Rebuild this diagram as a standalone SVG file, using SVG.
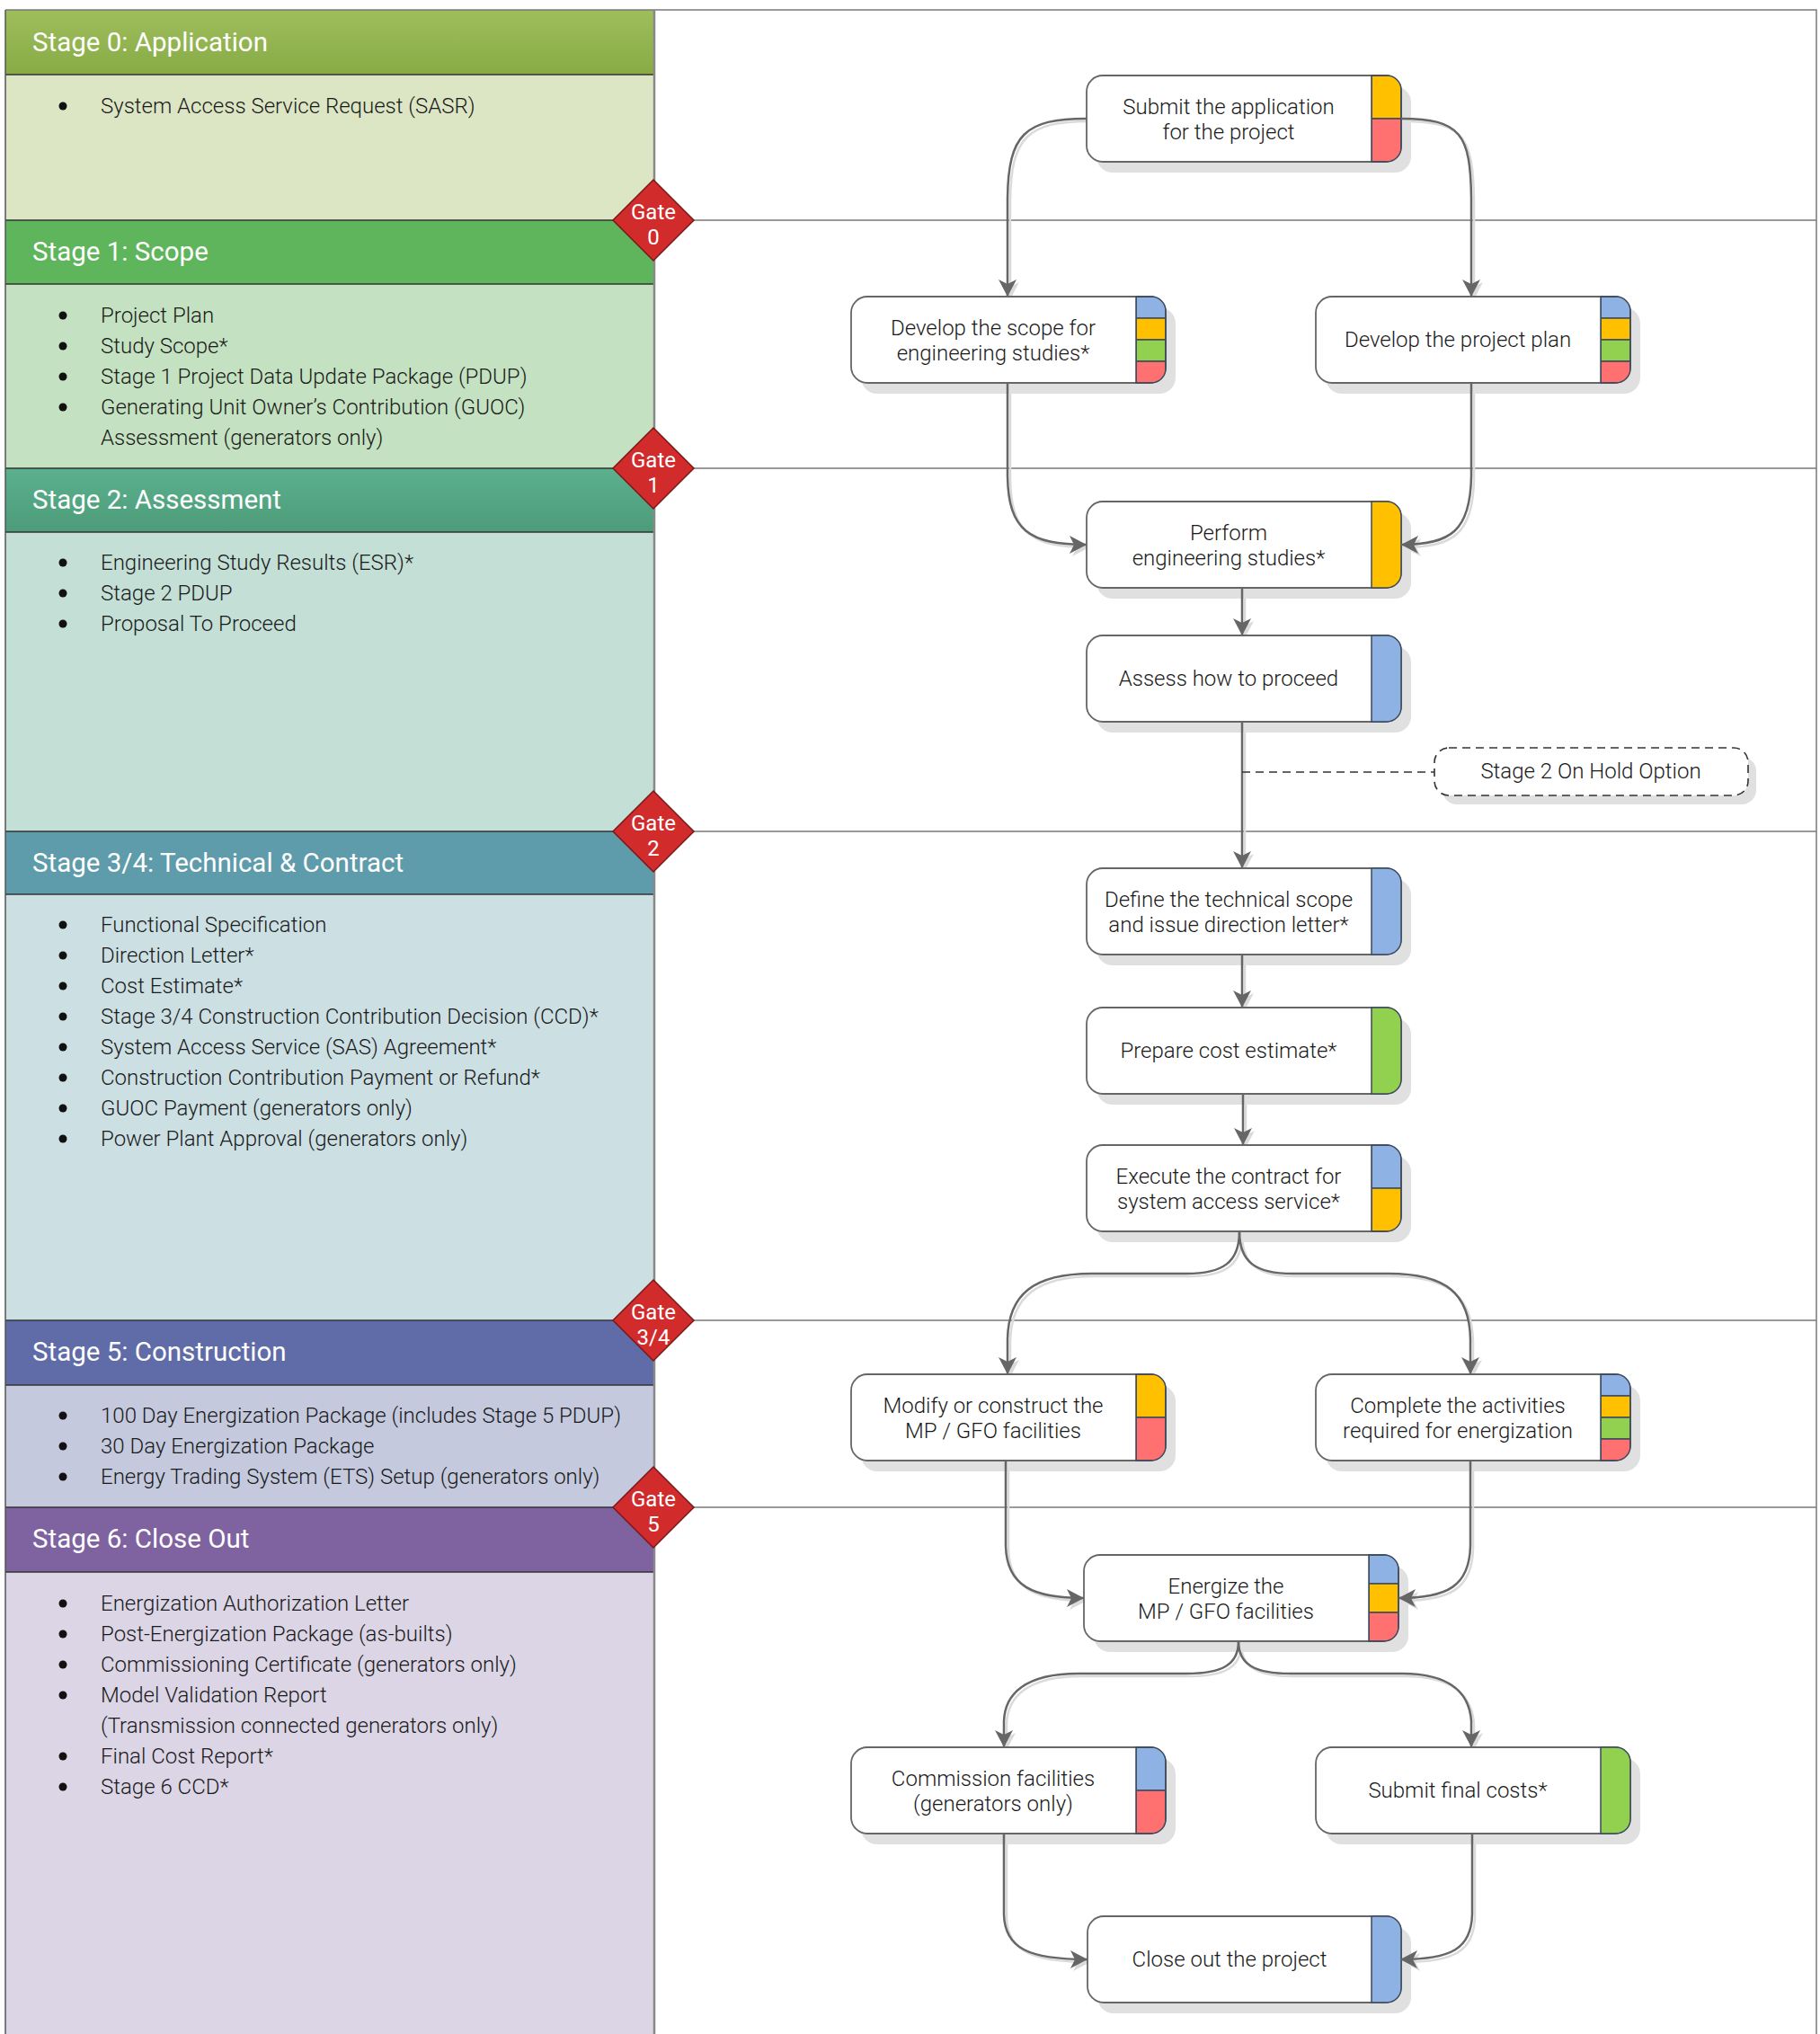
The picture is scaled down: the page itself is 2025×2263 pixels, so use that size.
<svg xmlns="http://www.w3.org/2000/svg" xmlns:xlink="http://www.w3.org/1999/xlink" width="2025" height="2263" viewBox="0 0 2025 2263">
<style>
.hdr{font-family:Roboto,"Liberation Sans",sans-serif;font-size:29.5px;fill:#fff;font-weight:400}
.lst{font-family:Roboto,"Liberation Sans",sans-serif;font-size:24px;fill:#1a1a1a;font-weight:300}
.gt{font-family:Roboto,"Liberation Sans",sans-serif;font-size:24px;fill:#fff;text-anchor:middle}
.nt{font-family:Roboto,"Liberation Sans",sans-serif;font-size:24px;fill:#1a1a1a;font-weight:300;text-anchor:middle}
.frame{stroke:#7a7a7a;stroke-width:1.5;fill:none}
.hline{stroke:#333;stroke-width:1.5}
.gate{fill:#d12b2b;stroke:#7a1818;stroke-width:1.5}
.box{fill:#fff;stroke:#666;stroke-width:1.8}
.shd{fill:#e0e0e0}
.con{fill:none;stroke:#666;stroke-width:2.5}
.cons{fill:none;stroke:#dadada;stroke-width:2.5}
.dash{fill:none;stroke:#333;stroke-width:1.6;stroke-dasharray:9 6}
.bul{fill:#111}
</style>
<defs>
<linearGradient id="g0" x1="0" y1="0" x2="0" y2="1"><stop offset="0" stop-color="#9ebe5b"/><stop offset="1" stop-color="#88ab46"/></linearGradient>
<linearGradient id="g2" x1="0" y1="0" x2="0" y2="1"><stop offset="0" stop-color="#5bb08e"/><stop offset="1" stop-color="#4d9c79"/></linearGradient>
<marker id="arr" markerUnits="userSpaceOnUse" markerWidth="22" markerHeight="22" refX="19" refY="10" orient="auto">
<path d="M0,0 L19,10 L0,20 L5,10 Z" fill="#666"/>
</marker>
<marker id="arrs" markerUnits="userSpaceOnUse" markerWidth="22" markerHeight="22" refX="19" refY="10" orient="auto">
<path d="M0,0 L19,10 L0,20 L5,10 Z" fill="#dadada"/>
</marker>
<clipPath id="barclip" clipPathUnits="objectBoundingBox">
<path d="M0,0 H0.5 A0.5,0.17 0 0 1 1,0.17 V0.83 A0.5,0.17 0 0 1 0.5,1 H0 Z"/>
</clipPath>
<symbol id="bYR" viewBox="0 0 33 96" overflow="visible"><g clip-path="url(#barclip)"><rect x="0" y="0" width="33" height="48" fill="#ffc000" stroke="#3d4a5c" stroke-width="1.5"/><rect x="0" y="48" width="33" height="48" fill="#ff7070" stroke="#3d4a5c" stroke-width="1.5"/></g><path d="M0,0 H17 A16,16 0 0 1 33,16 V80 A16,16 0 0 1 17,96 H0 Z" fill="none" stroke="#3d4a5c" stroke-width="1.5"/></symbol>
<symbol id="bBYGR" viewBox="0 0 33 96" overflow="visible"><g clip-path="url(#barclip)"><rect x="0" y="0" width="33" height="24" fill="#8eb2e3" stroke="#3d4a5c" stroke-width="1.5"/><rect x="0" y="24" width="33" height="24" fill="#ffc000" stroke="#3d4a5c" stroke-width="1.5"/><rect x="0" y="48" width="33" height="24" fill="#92d050" stroke="#3d4a5c" stroke-width="1.5"/><rect x="0" y="72" width="33" height="24" fill="#ff7070" stroke="#3d4a5c" stroke-width="1.5"/></g><path d="M0,0 H17 A16,16 0 0 1 33,16 V80 A16,16 0 0 1 17,96 H0 Z" fill="none" stroke="#3d4a5c" stroke-width="1.5"/></symbol>
<symbol id="bY" viewBox="0 0 33 96" overflow="visible"><path d="M0,0 H17 A16,16 0 0 1 33,16 V80 A16,16 0 0 1 17,96 H0 Z" fill="#ffc000" stroke="#3d4a5c" stroke-width="1.5"/></symbol>
<symbol id="bB" viewBox="0 0 33 96" overflow="visible"><path d="M0,0 H17 A16,16 0 0 1 33,16 V80 A16,16 0 0 1 17,96 H0 Z" fill="#8eb2e3" stroke="#3d4a5c" stroke-width="1.5"/></symbol>
<symbol id="bG" viewBox="0 0 33 96" overflow="visible"><path d="M0,0 H17 A16,16 0 0 1 33,16 V80 A16,16 0 0 1 17,96 H0 Z" fill="#92d050" stroke="#3d4a5c" stroke-width="1.5"/></symbol>
<symbol id="bBY" viewBox="0 0 33 96" overflow="visible"><g clip-path="url(#barclip)"><rect x="0" y="0" width="33" height="48" fill="#8eb2e3" stroke="#3d4a5c" stroke-width="1.5"/><rect x="0" y="48" width="33" height="48" fill="#ffc000" stroke="#3d4a5c" stroke-width="1.5"/></g><path d="M0,0 H17 A16,16 0 0 1 33,16 V80 A16,16 0 0 1 17,96 H0 Z" fill="none" stroke="#3d4a5c" stroke-width="1.5"/></symbol>
<symbol id="bBYR" viewBox="0 0 33 96" overflow="visible"><g clip-path="url(#barclip)"><rect x="0" y="0" width="33" height="32" fill="#8eb2e3" stroke="#3d4a5c" stroke-width="1.5"/><rect x="0" y="32" width="33" height="32" fill="#ffc000" stroke="#3d4a5c" stroke-width="1.5"/><rect x="0" y="64" width="33" height="32" fill="#ff7070" stroke="#3d4a5c" stroke-width="1.5"/></g><path d="M0,0 H17 A16,16 0 0 1 33,16 V80 A16,16 0 0 1 17,96 H0 Z" fill="none" stroke="#3d4a5c" stroke-width="1.5"/></symbol>
<symbol id="bBR" viewBox="0 0 33 96" overflow="visible"><g clip-path="url(#barclip)"><rect x="0" y="0" width="33" height="48" fill="#8eb2e3" stroke="#3d4a5c" stroke-width="1.5"/><rect x="0" y="48" width="33" height="48" fill="#ff7070" stroke="#3d4a5c" stroke-width="1.5"/></g><path d="M0,0 H17 A16,16 0 0 1 33,16 V80 A16,16 0 0 1 17,96 H0 Z" fill="none" stroke="#3d4a5c" stroke-width="1.5"/></symbol>
</defs>
<rect x="0" y="0" width="2025" height="2263" fill="#fff"/>

<!-- frame / swimlane lines -->
<g id="frame">
<path class="frame" d="M728,11 H2021 V2263"/>
<path class="frame" d="M728,245 H2021 M728,521 H2021 M728,925 H2021 M728,1469 H2021 M728,1677 H2021"/>
</g>

<!-- stage panel -->
<g id="stage0">
<rect x="6" y="11" width="722" height="72" fill="url(#g0)"/>
<rect x="6" y="83" width="722" height="162" fill="#dce6c5"/>
<text class="hdr" x="36" y="57">Stage 0: Application</text>
<circle class="bul" cx="70" cy="118" r="4.5"/>
<text class="lst" x="112" y="126">System Access Service Request (SASR)</text>
</g>
<g id="stage1">
<rect x="6" y="245" width="722" height="71" fill="#5fb55c"/>
<rect x="6" y="316" width="722" height="205" fill="#c4e2c1"/>
<text class="hdr" x="36" y="290">Stage 1: Scope</text>
<g class="bul"><circle cx="70" cy="351" r="4.5"/><circle cx="70" cy="385" r="4.5"/><circle cx="70" cy="419" r="4.5"/><circle cx="70" cy="453" r="4.5"/></g>
<text class="lst"><tspan x="112" y="359">Project Plan</tspan><tspan x="112" y="393">Study Scope*</tspan><tspan x="112" y="427">Stage 1 Project Data Update Package (PDUP)</tspan><tspan x="112" y="461">Generating Unit Owner’s Contribution (GUOC)</tspan><tspan x="112" y="495">Assessment (generators only)</tspan></text>
</g>
<g id="stage2">
<rect x="6" y="521" width="722" height="71" fill="url(#g2)"/>
<rect x="6" y="592" width="722" height="333" fill="#c3dfd6"/>
<text class="hdr" x="36" y="566">Stage 2: Assessment</text>
<g class="bul"><circle cx="70" cy="626" r="4.5"/><circle cx="70" cy="660" r="4.5"/><circle cx="70" cy="694" r="4.5"/></g>
<text class="lst"><tspan x="112" y="634">Engineering Study Results (ESR)*</tspan><tspan x="112" y="668">Stage 2 PDUP</tspan><tspan x="112" y="702">Proposal To Proceed</tspan></text>
</g>
<g id="stage34">
<rect x="6" y="925" width="722" height="70" fill="#5e9bab"/>
<rect x="6" y="995" width="722" height="474" fill="#cce0e4"/>
<text class="hdr" x="36" y="970">Stage 3/4: Technical &amp; Contract</text>
<g class="bul"><circle cx="70" cy="1029" r="4.5"/><circle cx="70" cy="1063" r="4.5"/><circle cx="70" cy="1097" r="4.5"/><circle cx="70" cy="1131" r="4.5"/><circle cx="70" cy="1165" r="4.5"/><circle cx="70" cy="1199" r="4.5"/><circle cx="70" cy="1233" r="4.5"/><circle cx="70" cy="1267" r="4.5"/></g>
<text class="lst"><tspan x="112" y="1037">Functional Specification</tspan><tspan x="112" y="1071">Direction Letter*</tspan><tspan x="112" y="1105">Cost Estimate*</tspan><tspan x="112" y="1139">Stage 3/4 Construction Contribution Decision (CCD)*</tspan><tspan x="112" y="1173">System Access Service (SAS) Agreement*</tspan><tspan x="112" y="1207">Construction Contribution Payment or Refund*</tspan><tspan x="112" y="1241">GUOC Payment (generators only)</tspan><tspan x="112" y="1275">Power Plant Approval (generators only)</tspan></text>
</g>
<g id="stage5">
<rect x="6" y="1469" width="722" height="72" fill="#606ca8"/>
<rect x="6" y="1541" width="722" height="136" fill="#c4c9de"/>
<text class="hdr" x="36" y="1514">Stage 5: Construction</text>
<g class="bul"><circle cx="70" cy="1575" r="4.5"/><circle cx="70" cy="1609" r="4.5"/><circle cx="70" cy="1643" r="4.5"/></g>
<text class="lst"><tspan x="112" y="1583">100 Day Energization Package (includes Stage 5 PDUP)</tspan><tspan x="112" y="1617">30 Day Energization Package</tspan><tspan x="112" y="1651">Energy Trading System (ETS) Setup (generators only)</tspan></text>
</g>
<g id="stage6">
<rect x="6" y="1677" width="722" height="72" fill="#7f63a0"/>
<rect x="6" y="1749" width="722" height="514" fill="#dbd5e6"/>
<text class="hdr" x="36" y="1722">Stage 6: Close Out</text>
<g class="bul"><circle cx="70" cy="1784" r="4.5"/><circle cx="70" cy="1818" r="4.5"/><circle cx="70" cy="1852" r="4.5"/><circle cx="70" cy="1886" r="4.5"/><circle cx="70" cy="1954" r="4.5"/><circle cx="70" cy="1988" r="4.5"/></g>
<text class="lst"><tspan x="112" y="1792">Energization Authorization Letter</tspan><tspan x="112" y="1826">Post-Energization Package (as-builts)</tspan><tspan x="112" y="1860">Commissioning Certificate (generators only)</tspan><tspan x="112" y="1894">Model Validation Report</tspan><tspan x="112" y="1928">(Transmission connected generators only)</tspan><tspan x="112" y="1962">Final Cost Report*</tspan><tspan x="112" y="1996">Stage 6 CCD*</tspan></text>
</g>
<g id="panel-lines">
<path class="hline" d="M6,83 H728 M6,245 H728 M6,316 H728 M6,521 H728 M6,592 H728 M6,925 H728 M6,995 H728 M6,1469 H728 M6,1541 H728 M6,1677 H728 M6,1749 H728"/>
<path d="M6,11 V2263" stroke="#555" stroke-width="1.5"/>
<path d="M6,11 H728" stroke="#777" stroke-width="1.5"/>
<path d="M728,11 V2263" stroke="#888" stroke-width="2.5"/>
</g>

<!-- gates -->
<g id="gate0"><polygon class="gate" points="727,200 772,245 727,290 682,245"/><text class="gt" x="727" y="244">Gate</text><text class="gt" x="727" y="272">0</text></g>
<g id="gate1"><polygon class="gate" points="727,476 772,521 727,566 682,521"/><text class="gt" x="727" y="520">Gate</text><text class="gt" x="727" y="548">1</text></g>
<g id="gate2"><polygon class="gate" points="727,880 772,925 727,970 682,925"/><text class="gt" x="727" y="924">Gate</text><text class="gt" x="727" y="952">2</text></g>
<g id="gate34"><polygon class="gate" points="727,1424 772,1469 727,1514 682,1469"/><text class="gt" x="727" y="1468">Gate</text><text class="gt" x="727" y="1496">3/4</text></g>
<g id="gate5"><polygon class="gate" points="727,1632 772,1677 727,1722 682,1677"/><text class="gt" x="727" y="1676">Gate</text><text class="gt" x="727" y="1704">5</text></g>

<!-- connector shadows -->
<g id="connector-shadows" transform="translate(3,3)">
<path class="cons" marker-end="url(#arrs)" d="M1209,132 C1140,132 1122,150 1121,220 L1121,330"/>
<path class="cons" marker-end="url(#arrs)" d="M1559,132 C1626,132 1636,150 1637,220 L1637,330"/>
<path class="cons" marker-end="url(#arrs)" d="M1121,427 L1121,530 C1122,590 1145,606 1209,606"/>
<path class="cons" marker-end="url(#arrs)" d="M1637,427 L1637,530 C1636,590 1615,606 1559,606"/>
<path class="cons" marker-end="url(#arrs)" d="M1382,654 L1382,707"/>
<path class="cons" marker-end="url(#arrs)" d="M1382,804 L1382,966"/>
<path class="cons" marker-end="url(#arrs)" d="M1382,1062 L1382,1121"/>
<path class="cons" marker-end="url(#arrs)" d="M1383,1217 L1383,1274"/>
<path class="cons" marker-end="url(#arrs)" d="M1379,1370 C1379,1405 1360,1417 1320,1417 L1215,1417 C1150,1417 1122,1440 1121,1490 L1121,1529"/>
<path class="cons" marker-end="url(#arrs)" d="M1379,1370 C1379,1405 1398,1417 1438,1417 L1545,1417 C1610,1417 1635,1440 1636,1490 L1636,1529"/>
<path class="cons" marker-end="url(#arrs)" d="M1119,1625 L1119,1720 C1120,1765 1150,1778 1206,1778"/>
<path class="cons" marker-end="url(#arrs)" d="M1636,1625 L1636,1720 C1635,1765 1610,1778 1556,1778"/>
<path class="cons" marker-end="url(#arrs)" d="M1378,1826 C1378,1852 1360,1862 1320,1862 L1200,1862 C1140,1862 1118,1885 1117,1915 L1117,1944"/>
<path class="cons" marker-end="url(#arrs)" d="M1378,1826 C1378,1852 1396,1862 1436,1862 L1560,1862 C1615,1862 1635,1885 1637,1915 L1637,1944"/>
<path class="cons" marker-end="url(#arrs)" d="M1117,2040 L1117,2130 C1118,2168 1145,2180 1210,2180"/>
<path class="cons" marker-end="url(#arrs)" d="M1638,2040 L1638,2130 C1637,2168 1615,2180 1558,2180"/>
</g>

<!-- nodes -->
<g id="n-submit"><rect class="shd" x="1220" y="96" width="350" height="96" rx="18"/><rect class="box" x="1209" y="84" width="350" height="96" rx="18"/><use xlink:href="#bYR" x="1526" y="84" width="33" height="96"/><text class="nt"><tspan x="1367" y="127">Submit the application</tspan><tspan x="1367" y="155">for the project</tspan></text></g>
<g id="n-scope"><rect class="shd" x="958" y="342" width="350" height="96" rx="18"/><rect class="box" x="947" y="330" width="350" height="96" rx="18"/><use xlink:href="#bBYGR" x="1264" y="330" width="33" height="96"/><text class="nt"><tspan x="1105" y="373">Develop the scope for</tspan><tspan x="1105" y="401">engineering studies*</tspan></text></g>
<g id="n-plan"><rect class="shd" x="1475" y="342" width="350" height="96" rx="18"/><rect class="box" x="1464" y="330" width="350" height="96" rx="18"/><use xlink:href="#bBYGR" x="1781" y="330" width="33" height="96"/><text class="nt" x="1622" y="386">Develop the project plan</text></g>
<g id="n-perform"><rect class="shd" x="1220" y="570" width="350" height="96" rx="18"/><rect class="box" x="1209" y="558" width="350" height="96" rx="18"/><use xlink:href="#bY" x="1526" y="558" width="33" height="96"/><text class="nt"><tspan x="1367" y="601">Perform</tspan><tspan x="1367" y="629">engineering studies*</tspan></text></g>
<g id="n-assess"><rect class="shd" x="1220" y="719" width="350" height="96" rx="18"/><rect class="box" x="1209" y="707" width="350" height="96" rx="18"/><use xlink:href="#bB" x="1526" y="707" width="33" height="96"/><text class="nt" x="1367" y="763">Assess how to proceed</text></g>
<g id="n-hold"><rect class="shd" x="1605" y="842" width="349" height="53" rx="16"/><rect x="1596" y="832" width="349" height="53" rx="16" fill="#fff" stroke="#333" stroke-width="1.6" stroke-dasharray="9 6"/><text class="nt" x="1770" y="866">Stage 2 On Hold Option</text></g>
<g id="n-define"><rect class="shd" x="1220" y="978" width="350" height="96" rx="18"/><rect class="box" x="1209" y="966" width="350" height="96" rx="18"/><use xlink:href="#bB" x="1526" y="966" width="33" height="96"/><text class="nt"><tspan x="1367" y="1009">Define the technical scope</tspan><tspan x="1367" y="1037">and issue direction letter*</tspan></text></g>
<g id="n-cost"><rect class="shd" x="1220" y="1133" width="350" height="96" rx="18"/><rect class="box" x="1209" y="1121" width="350" height="96" rx="18"/><use xlink:href="#bG" x="1526" y="1121" width="33" height="96"/><text class="nt" x="1367" y="1177">Prepare cost estimate*</text></g>
<g id="n-execute"><rect class="shd" x="1220" y="1286" width="350" height="96" rx="18"/><rect class="box" x="1209" y="1274" width="350" height="96" rx="18"/><use xlink:href="#bBY" x="1526" y="1274" width="33" height="96"/><text class="nt"><tspan x="1367" y="1317">Execute the contract for</tspan><tspan x="1367" y="1345">system access service*</tspan></text></g>
<g id="n-modify"><rect class="shd" x="958" y="1541" width="350" height="96" rx="18"/><rect class="box" x="947" y="1529" width="350" height="96" rx="18"/><use xlink:href="#bYR" x="1264" y="1529" width="33" height="96"/><text class="nt"><tspan x="1105" y="1572">Modify or construct the</tspan><tspan x="1105" y="1600">MP / GFO facilities</tspan></text></g>
<g id="n-complete"><rect class="shd" x="1475" y="1541" width="350" height="96" rx="18"/><rect class="box" x="1464" y="1529" width="350" height="96" rx="18"/><use xlink:href="#bBYGR" x="1781" y="1529" width="33" height="96"/><text class="nt"><tspan x="1622" y="1572">Complete the activities</tspan><tspan x="1622" y="1600">required for energization</tspan></text></g>
<g id="n-energize"><rect class="shd" x="1217" y="1742" width="350" height="96" rx="18"/><rect class="box" x="1206" y="1730" width="350" height="96" rx="18"/><use xlink:href="#bBYR" x="1523" y="1730" width="33" height="96"/><text class="nt"><tspan x="1364" y="1773">Energize the</tspan><tspan x="1364" y="1801">MP / GFO facilities</tspan></text></g>
<g id="n-commission"><rect class="shd" x="958" y="1956" width="350" height="96" rx="18"/><rect class="box" x="947" y="1944" width="350" height="96" rx="18"/><use xlink:href="#bBR" x="1264" y="1944" width="33" height="96"/><text class="nt"><tspan x="1105" y="1987">Commission facilities</tspan><tspan x="1105" y="2015">(generators only)</tspan></text></g>
<g id="n-final"><rect class="shd" x="1475" y="1956" width="350" height="96" rx="18"/><rect class="box" x="1464" y="1944" width="350" height="96" rx="18"/><use xlink:href="#bG" x="1781" y="1944" width="33" height="96"/><text class="nt" x="1622" y="2000">Submit final costs*</text></g>
<g id="n-close"><rect class="shd" x="1221" y="2144" width="349" height="96" rx="18"/><rect class="box" x="1210" y="2132" width="349" height="96" rx="18"/><use xlink:href="#bB" x="1526" y="2132" width="33" height="96"/><text class="nt" x="1368" y="2188">Close out the project</text></g>

<!-- connectors -->
<g id="connectors">
<path class="con" marker-end="url(#arr)" d="M1209,132 C1140,132 1122,150 1121,220 L1121,330"/>
<path class="con" marker-end="url(#arr)" d="M1559,132 C1626,132 1636,150 1637,220 L1637,330"/>
<path class="con" marker-end="url(#arr)" d="M1121,427 L1121,530 C1122,590 1145,606 1209,606"/>
<path class="con" marker-end="url(#arr)" d="M1637,427 L1637,530 C1636,590 1615,606 1559,606"/>
<path class="con" marker-end="url(#arr)" d="M1382,654 L1382,707"/>
<path class="con" marker-end="url(#arr)" d="M1382,804 L1382,966"/>
<path class="dash" d="M1382,859 L1596,859"/>
<path class="con" marker-end="url(#arr)" d="M1382,1062 L1382,1121"/>
<path class="con" marker-end="url(#arr)" d="M1383,1217 L1383,1274"/>
<path class="con" marker-end="url(#arr)" d="M1379,1370 C1379,1405 1360,1417 1320,1417 L1215,1417 C1150,1417 1122,1440 1121,1490 L1121,1529"/>
<path class="con" marker-end="url(#arr)" d="M1379,1370 C1379,1405 1398,1417 1438,1417 L1545,1417 C1610,1417 1635,1440 1636,1490 L1636,1529"/>
<path class="con" marker-end="url(#arr)" d="M1119,1625 L1119,1720 C1120,1765 1150,1778 1206,1778"/>
<path class="con" marker-end="url(#arr)" d="M1636,1625 L1636,1720 C1635,1765 1610,1778 1556,1778"/>
<path class="con" marker-end="url(#arr)" d="M1378,1826 C1378,1852 1360,1862 1320,1862 L1200,1862 C1140,1862 1118,1885 1117,1915 L1117,1944"/>
<path class="con" marker-end="url(#arr)" d="M1378,1826 C1378,1852 1396,1862 1436,1862 L1560,1862 C1615,1862 1635,1885 1637,1915 L1637,1944"/>
<path class="con" marker-end="url(#arr)" d="M1117,2040 L1117,2130 C1118,2168 1145,2180 1210,2180"/>
<path class="con" marker-end="url(#arr)" d="M1638,2040 L1638,2130 C1637,2168 1615,2180 1558,2180"/>
</g>
</svg>
